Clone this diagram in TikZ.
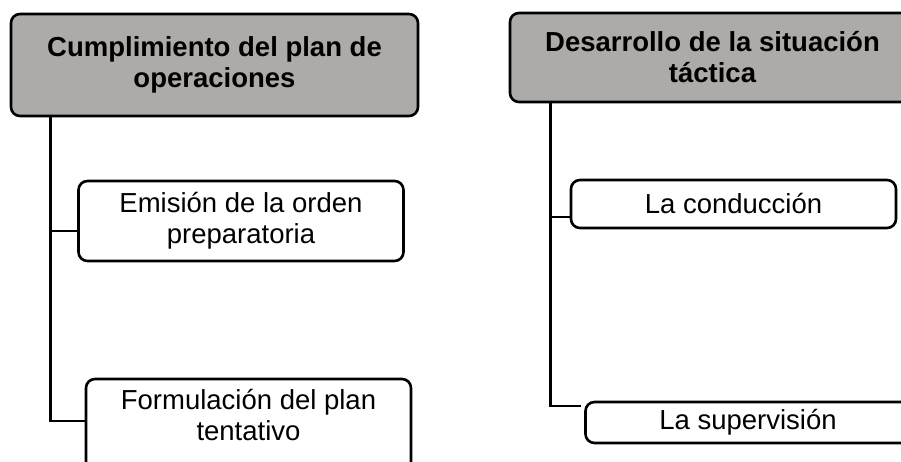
\documentclass[tikz,border=0pt]{standalone}
\usepackage{fontspec}
\setmainfont{Liberation Sans}
\usetikzlibrary{positioning}
\definecolor{headgray}{RGB}{174,170,168}

\begin{document}
\begin{tikzpicture}[x=1pt, y=-1pt,
    headbox/.style={draw, line width=2.6pt, rounded corners=9pt, fill=headgray, align=center, inner sep=0pt, font=\fontsize{27.5}{31}\selectfont\bfseries},
    itembox/.style={draw, line width=2.6pt, rounded corners=9pt, fill=white, align=center, inner sep=0pt, minimum width=325pt, font=\fontsize{27.5}{31}\selectfont},
    link/.style={line width=2.6pt}]
    \useasboundingbox (0,0) rectangle (901,462);
    \clip (0,0) rectangle (901,462);

    \node[headbox, minimum width=407pt, minimum height=102pt] (plan) at (214.5,65) {Cumplimiento del plan de\\operaciones};
    \node[itembox, minimum height=80pt] (orden) at (241,221) {Emisión de la orden\\preparatoria};
    \node[itembox, minimum height=92pt, text depth=20pt] (tentativo) at (248.5,425) {Formulación del plan\\tentativo};

    \node[headbox, minimum width=405pt, minimum height=89pt] (tactica) at (712.5,57.5) {Desarrollo de la situación\\táctica};
    \node[itembox, minimum height=48pt] (conduccion) at (733.5,204) {La conducción};
    \node[itembox, minimum height=41pt] (supervision) at (748,422.5) {La supervisión};

    \draw[link] ([xshift=41pt]plan.south west) |- ([yshift=-10pt]orden.west);
    \draw[link] ([xshift=41pt]plan.south west) |- ([yshift=4pt]tentativo.west);

    \draw[link] ([xshift=42pt]tactica.south west) |- ([yshift=-13pt]conduccion.west);
    \draw[link] ([xshift=42pt]tactica.south west) |- ([xshift=-3pt, yshift=16.5pt]supervision.west);
\end{tikzpicture}
\end{document}
